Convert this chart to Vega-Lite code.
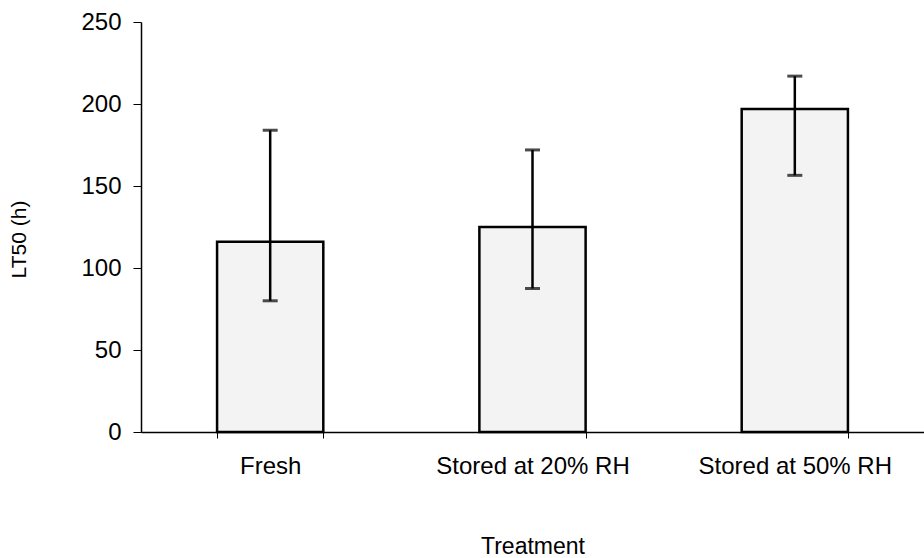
{
  "$schema": "https://vega.github.io/schema/vega-lite/v6.json",
  "autosize": "none",
  "padding": {"left": 141, "top": 22, "right": 0, "bottom": 126},
  "width": 783,
  "height": 410,
  "background": "white",
  "config": {
    "view": {"stroke": null},
    "font": "Liberation Sans",
    "axis": {"grid": false, "domainColor": "black", "tickColor": "black", "labelColor": "black", "titleColor": "black", "labelFont": "Liberation Sans", "titleFont": "Liberation Sans", "titleFontWeight": "normal", "labelLimit": 0}
  },
  "data": {"values": [
    {"treatment": "Fresh", "lt50": 116, "lo": 80, "hi": 184},
    {"treatment": "Stored at 20% RH", "lt50": 125, "lo": 87.5, "hi": 172},
    {"treatment": "Stored at 50% RH", "lt50": 197, "lo": 156.5, "hi": 217}
  ]},
  "encoding": {
    "x": {"field": "treatment", "type": "nominal", "sort": null,
      "scale": {"paddingInner": 0.595, "paddingOuter": 0.29},
      "axis": {"title": "Treatment", "labelAngle": 0, "labelFontSize": 24, "titleFontSize": 23, "tickBand": "extent", "tickSize": 6, "labelPadding": 16, "titleY": 114, "titleBaseline": "middle", "domainWidth": 1.5}}
  },
  "layer": [
    {"mark": {"type": "bar", "fill": "#f3f3f3", "stroke": "black", "strokeWidth": 2.5},
     "encoding": {"y": {"field": "lt50", "type": "quantitative",
       "scale": {"domain": [0, 250], "nice": false},
       "axis": {"title": "LT50 (h)", "values": [0, 50, 100, 150, 200, 250], "labelFontSize": 24, "titleFontSize": 21, "tickSize": 8, "labelPadding": 12, "titleX": -122, "titleY": 217, "titleBaseline": "middle", "titleAlign": "center", "domainWidth": 1.5}}}},
    {"mark": {"type": "rule", "stroke": "black", "strokeWidth": 2.5},
     "encoding": {"y": {"field": "lo", "type": "quantitative"}, "y2": {"field": "hi"}}},
    {"mark": {"type": "tick", "color": "black", "thickness": 3, "size": 15, "orient": "horizontal"},
     "encoding": {"y": {"field": "lo", "type": "quantitative"}}},
    {"mark": {"type": "tick", "color": "black", "thickness": 3, "size": 15, "orient": "horizontal"},
     "encoding": {"y": {"field": "hi", "type": "quantitative"}}}
  ]
}
